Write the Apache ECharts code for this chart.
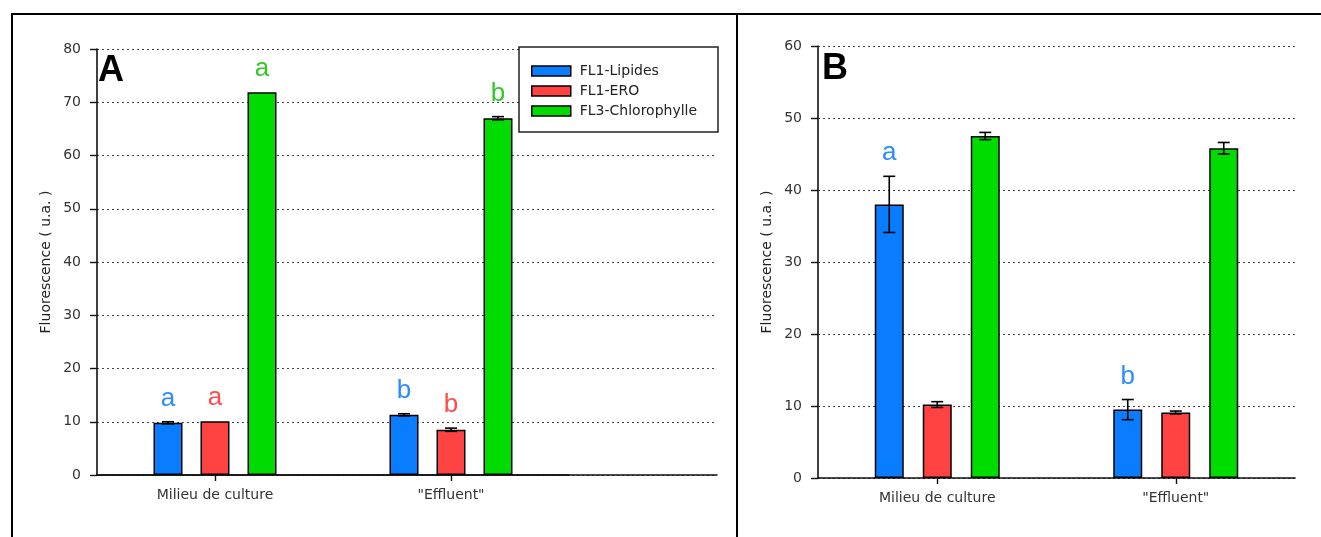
<!DOCTYPE html>
<html>
<head>
<meta charset="utf-8">
<script src="https://cdn.jsdelivr.net/npm/echarts@6/dist/echarts.min.js"></script>
<style>
  html, body { margin: 0; padding: 0; background: #fff; }
  #chart { width: 1321px; height: 537px; }
</style>
</head>
<body>
<div id="chart"></div>
<script>
// Categories and series
const categories = ['Milieu de culture', '"Effluent"'];
const seriesNames = ['FL1-Lipides', 'FL1-ERO', 'FL3-Chlorophylle'];
const barColors = ['#0a7dff', '#ff4242', '#00dc00'];
const letterColors = ['#2a8cff', '#ff4d4d', '#33c82a'];

// Panel A : mean fluorescence and error (u.a.)
const lipidesA = [9.8, 11.3];
const lipidesErrA = [0.2, 0.2];
const eroA = [10.1, 8.5];
const eroErrA = [0, 0.3];
const chloroA = [71.9, 67.0];
const chloroErrA = [0, 0.3];
const lettersLipA = ['a', 'b'];
const lettersEroA = ['a', 'b'];
const lettersChloroA = ['a', 'b'];

// Panel B : mean fluorescence and error (u.a.)
const lipidesB = [38.0, 9.5];
const lipidesErrB = [3.9, 1.4];
const eroB = [10.2, 9.1];
const eroErrB = [0.4, 0.2];
const chloroB = [47.5, 45.8];
const chloroErrB = [0.5, 0.8];
const lettersLipB = ['a', 'b'];
const lettersEroB = ['', ''];
const lettersChloroB = ['', ''];

// Axis ticks
const yTicksA = { min: 0, max: 80, interval: 10 };
const yTicksB = { min: 0, max: 60, interval: 10 };

const FONT = 'DejaVu Sans';
const LETTER_FONT = '26px "Liberation Sans", Arial, sans-serif';

const chart = echarts.init(document.getElementById('chart'), null, { renderer: 'canvas' });

// Error bar with significance letter, placed on the bar of a given slot in the group
function errorRenderer(values, errs, letters, slot, barW, gapPx, color) {
  return function (params, api) {
    const i = params.dataIndex;
    const v = values[i], e = errs[i];
    const x = api.coord([i, v])[0] + (slot - 1) * (barW + gapPx);
    const children = [];
    const top = api.coord([i, v + e])[1];
    if (e > 0) {
      const bot = api.coord([i, v - e])[1];
      const cap = 6;
      const st = { stroke: '#000', lineWidth: 1.6 };
      children.push({ type: 'line', shape: { x1: x, y1: top, x2: x, y2: bot }, style: st });
      children.push({ type: 'line', shape: { x1: x - cap, y1: top, x2: x + cap, y2: top }, style: st });
      children.push({ type: 'line', shape: { x1: x - cap, y1: bot, x2: x + cap, y2: bot }, style: st });
    }
    if (letters[i]) {
      children.push({
        type: 'text', x: x, y: top - 10,
        style: { text: letters[i], fill: color, font: LETTER_FONT, align: 'center', verticalAlign: 'bottom' }
      });
    }
    return { type: 'group', children: children };
  };
}

function barSeries(name, values, color, xi, yi, barW, gapPct) {
  return {
    type: 'bar', name: name, xAxisIndex: xi, yAxisIndex: yi,
    data: values, barWidth: barW, barGap: gapPct,
    itemStyle: { color: color, borderColor: '#000', borderWidth: 1.5 },
    z: 2
  };
}

function errSeries(values, errs, letters, slot, xi, yi, barW, gapPx, color) {
  return {
    type: 'custom', xAxisIndex: xi, yAxisIndex: yi,
    data: categories.map((c, i) => [i, values[i]]),
    renderItem: errorRenderer(values, errs, letters, slot, barW, gapPx, color),
    z: 5, silent: true
  };
}

const valueYAxis = (grid, t, name, show) => ({
  type: 'value', gridIndex: grid, min: t.min, max: t.max, interval: t.interval,
  show: show,
  name: name, nameLocation: 'middle', nameGap: 44,
  nameTextStyle: { fontFamily: FONT, fontSize: 14, color: '#222' },
  axisLine: { show: true, lineStyle: { color: '#111', width: 1.6 } },
  axisTick: { show: true, length: 7, inside: false, lineStyle: { color: '#111', width: 1.4 } },
  axisLabel: { fontFamily: FONT, fontSize: 14, color: '#333', margin: 16 },
  splitLine: { show: true, lineStyle: { color: '#444', type: [2, 3], width: 1 } }
});

const categoryXAxis = (grid) => ({
  type: 'category', gridIndex: grid, data: categories,
  axisLine: { show: true, lineStyle: { color: '#111', width: 1.6 } },
  axisTick: { show: true, alignWithLabel: true, length: 6, lineStyle: { color: '#111', width: 1.4 } },
  axisLabel: { fontFamily: FONT, fontSize: 14, color: '#333', margin: 13 },
  splitLine: { show: false }
});

const BW = 29, GAP_A = 18, GAP_B = 19;

const option = {
  animation: false,
  backgroundColor: '#fff',
  grid: [
    // A : frame (axes, grid lines)
    { left: 97, top: 49, width: 620, height: 426 },
    // A : bars
    { left: 97, top: 49, width: 472, height: 426 },
    // B
    { left: 818, top: 46, width: 477, height: 432 }
  ],
  xAxis: [
    { type: 'value', gridIndex: 0, min: 0, max: 1,
      axisLine: { show: true, onZero: false, lineStyle: { color: '#111', width: 1.6 } },
      axisTick: { show: false }, axisLabel: { show: false }, splitLine: { show: false } },
    categoryXAxis(1),
    categoryXAxis(2)
  ],
  yAxis: [
    valueYAxis(0, yTicksA, 'Fluorescence ( u.a. )', true),
    valueYAxis(1, yTicksA, '', false),
    valueYAxis(2, yTicksB, 'Fluorescence ( u.a. )', true)
  ],
  legend: {
    data: seriesNames,
    orient: 'vertical', left: 531, top: 64, padding: 0,
    itemWidth: 39, itemHeight: 10, itemGap: 6,
    icon: 'rect',
    itemStyle: { borderColor: '#000', borderWidth: 1.5 },
    textStyle: { fontFamily: FONT, fontSize: 14, color: '#222', padding: [0, 0, 0, 4] },
    selectedMode: false,
    z: 10
  },
  series: [
    barSeries(seriesNames[0], lipidesA, barColors[0], 1, 1, BW, (GAP_A / BW * 100) + '%'),
    barSeries(seriesNames[1], eroA, barColors[1], 1, 1, BW, (GAP_A / BW * 100) + '%'),
    barSeries(seriesNames[2], chloroA, barColors[2], 1, 1, BW, (GAP_A / BW * 100) + '%'),
    errSeries(lipidesA, lipidesErrA, lettersLipA, 0, 1, 1, BW, GAP_A, letterColors[0]),
    errSeries(eroA, eroErrA, lettersEroA, 1, 1, 1, BW, GAP_A, letterColors[1]),
    errSeries(chloroA, chloroErrA, lettersChloroA, 2, 1, 1, BW, GAP_A, letterColors[2]),

    barSeries(seriesNames[0], lipidesB, barColors[0], 2, 2, BW, (GAP_B / BW * 100) + '%'),
    barSeries(seriesNames[1], eroB, barColors[1], 2, 2, BW, (GAP_B / BW * 100) + '%'),
    barSeries(seriesNames[2], chloroB, barColors[2], 2, 2, BW, (GAP_B / BW * 100) + '%'),
    errSeries(lipidesB, lipidesErrB, lettersLipB, 0, 2, 2, BW, GAP_B, letterColors[0]),
    errSeries(eroB, eroErrB, lettersEroB, 1, 2, 2, BW, GAP_B, letterColors[1]),
    errSeries(chloroB, chloroErrB, lettersChloroB, 2, 2, 2, BW, GAP_B, letterColors[2])
  ],
  graphic: [
    // page frame
    { type: 'line', shape: { x1: 11, y1: 14, x2: 1321, y2: 14 }, style: { stroke: '#000', lineWidth: 2 }, z: 20 },
    { type: 'line', shape: { x1: 12, y1: 13, x2: 12, y2: 537 }, style: { stroke: '#000', lineWidth: 2 }, z: 20 },
    { type: 'line', shape: { x1: 737, y1: 13, x2: 737, y2: 537 }, style: { stroke: '#000', lineWidth: 2 }, z: 20 },
    // legend box
    { type: 'rect', shape: { x: 519, y: 47, width: 199, height: 85 },
      style: { fill: '#fff', stroke: '#222', lineWidth: 1.5 }, z: 3 },
    // panel letters
    { type: 'text', x: 98, y: 71, style: { text: 'A', font: 'bold 36px "Liberation Sans", Arial, sans-serif', fill: '#000', verticalAlign: 'middle' }, z: 10 },
    { type: 'text', x: 822, y: 69, style: { text: 'B', font: 'bold 36px "Liberation Sans", Arial, sans-serif', fill: '#000', verticalAlign: 'middle' }, z: 10 }
  ]
};

chart.setOption(option);
</script>
</body>
</html>
